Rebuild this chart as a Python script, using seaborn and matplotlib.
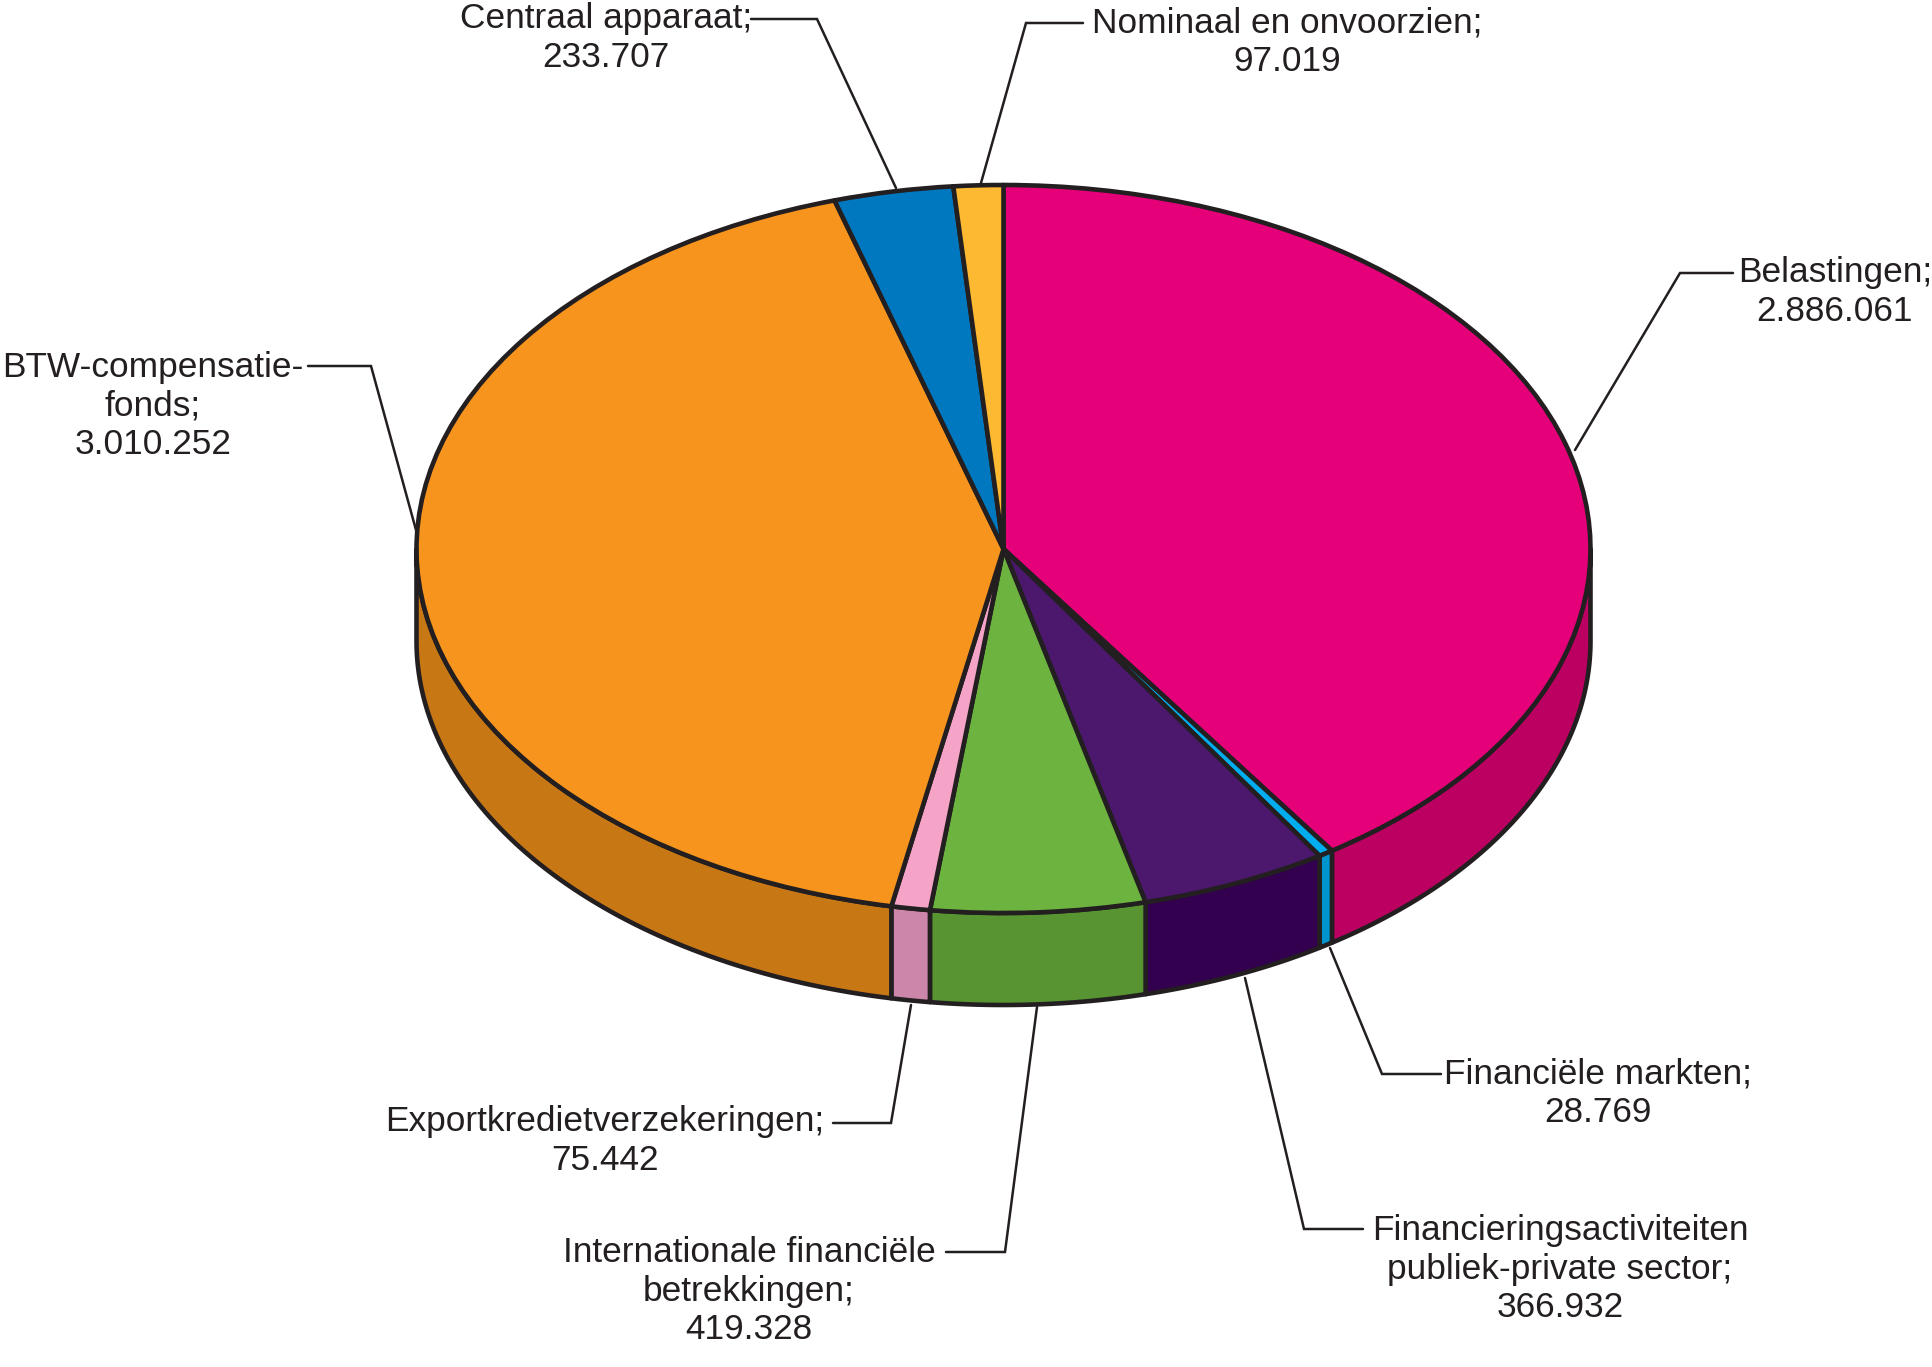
import numpy as np
import matplotlib
matplotlib.use("Agg")
import matplotlib.pyplot as plt
import seaborn as sns

categories = ["Belastingen", "Financiële markten", "Financieringsactiviteiten publiek-private sector",
              "Internationale financiële betrekkingen", "Exportkredietverzekeringen",
              "BTW-compensatiefonds", "Centraal apparaat", "Nominaal en onvoorzien"]
values = [2886061, 28769, 366932, 419328, 75442, 3010252, 233707, 97019]
label_texts = ["Belastingen;\n2.886.061", "Financiële markten;\n28.769",
               "Financieringsactiviteiten\npubliek-private sector;\n366.932",
               "Internationale financiële\nbetrekkingen;\n419.328",
               "Exportkredietverzekeringen;\n75.442",
               "BTW-compensatie-\nfonds;\n3.010.252",
               "Centraal apparaat;\n233.707", "Nominaal en onvoorzien;\n97.019"]
top_colors = ["#E5007A", "#00AEEF", "#4B186E", "#6CB33F", "#F5A3C7", "#F7941E", "#0078BF", "#FDB931"]
side_colors = ["#BC0062", "#0094CE", "#32004F", "#589431", "#CC86A9", "#C87715", "#0078BF", "#FDB931"]

W, H = 1933, 1367
CX, CY, RX, RY, DEPTH = 1003.5, 549, 587, 364, 92
INK = "#231F20"

label_pos = [(1835, 292), (1598, 1093), (1560, 1269), (749, 1291), (605, 1141), (153, 406), (606, 38), (1287, 42)]
leaders = [[(1575, 450), (1680, 273), (1733, 273)],
           [(1330, 948), (1382, 1074), (1441, 1074)],
           [(1245, 978), (1304, 1229), (1363, 1229)],
           [(1037, 1007), (1005, 1252), (946, 1252)],
           [(911, 1005), (891, 1123), (833, 1123)],
           [(416, 530), (371, 366), (308, 366)],
           [(896, 188), (817, 19), (751, 19)],
           [(981, 183), (1026, 23), (1083, 23)]]

sns.set_theme(style="white")
plt.rcParams["font.family"] = ["Liberation Sans", "DejaVu Sans"]
top_pal = sns.color_palette(top_colors)
side_pal = sns.color_palette(side_colors)

fig = plt.figure(figsize=(W / 100, H / 100), dpi=100, facecolor="white")
ax = fig.add_axes([0, 0, 1, 1])

def dx(x):
    return (x - CX) / RX
def dy(y):
    return (CY - y) / RY

depth = DEPTH / RY
fractions = np.array(values, dtype=float) / np.sum(values)
edges = 90 - 360 * np.concatenate([[0], np.cumsum(fractions)])

# Extruded rim: only the part of each slice on the front half is visible
for i, colour in enumerate(side_pal):
    lo = max(edges[i + 1], -180)
    hi = min(edges[i], 0)
    if hi <= lo:
        continue
    t = np.radians(np.linspace(lo, hi, 80))
    xs = np.cos(t)
    ys = np.sin(t)
    ax.fill(np.r_[xs, xs[::-1]], np.r_[ys, ys[::-1] - depth],
            facecolor=colour, edgecolor=INK, linewidth=3.3, joinstyle="round", zorder=1)

ax.pie(values, colors=top_pal, startangle=90, counterclock=False, radius=1,
       wedgeprops={"edgecolor": INK, "linewidth": 3.3, "joinstyle": "round", "zorder": 2})

ax.set_aspect("auto")
ax.set_xlim(dx(0), dx(W))
ax.set_ylim(dy(H), dy(0))
ax.axis("off")

for path in leaders:
    ax.plot([dx(p[0]) for p in path], [dy(p[1]) for p in path], color=INK, lw=1.8,
            solid_joinstyle="miter", zorder=3)

for text, (x, y) in zip(label_texts, label_pos):
    ax.text(dx(x), dy(y), text, ha="center", va="center", ma="center", color=INK,
            fontsize=25.4, linespacing=1.23, zorder=4)

fig.savefig("out.png", dpi=100, facecolor="white")
